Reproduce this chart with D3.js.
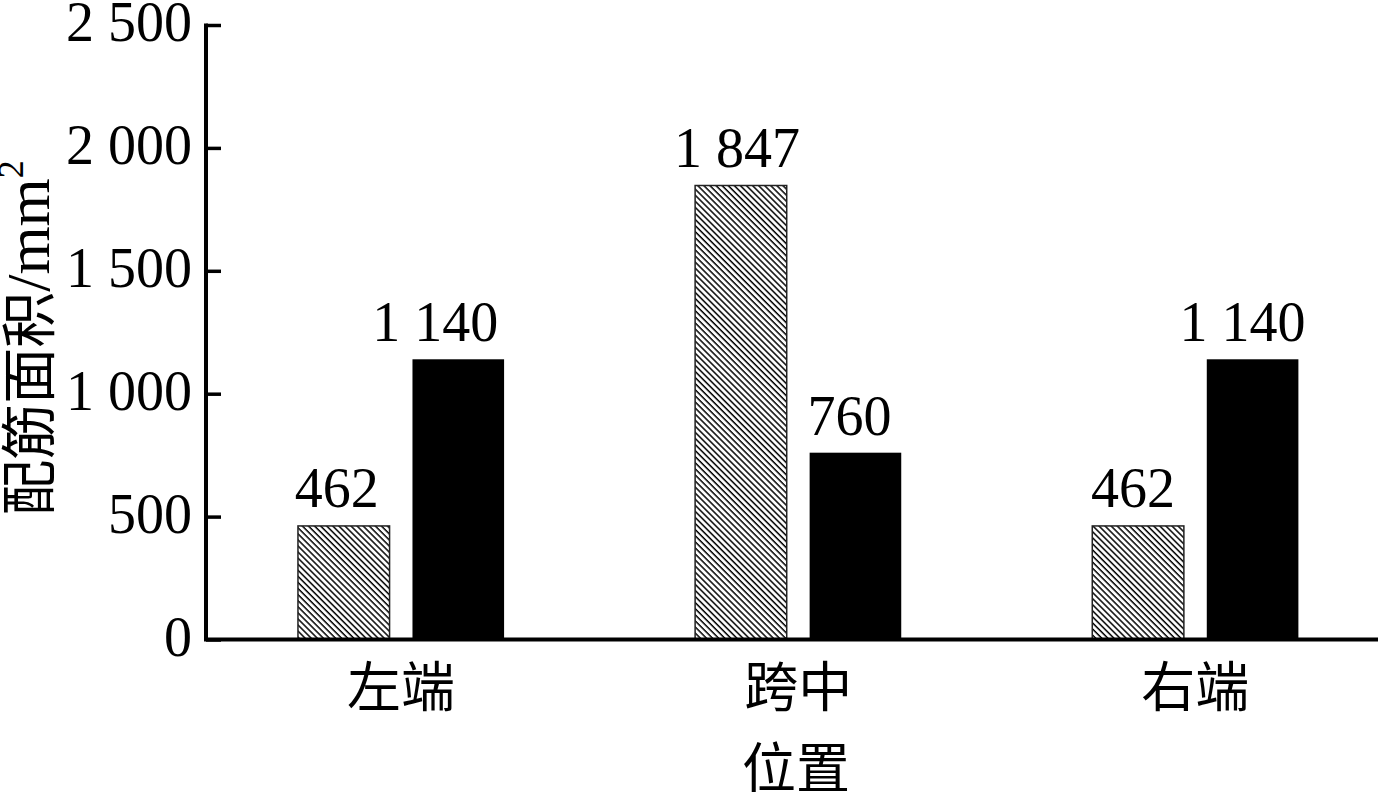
<!DOCTYPE html>
<html>
<head>
<meta charset="utf-8">
<script src="https://cdn.jsdelivr.net/npm/d3@7"></script>
<style>
  html, body { margin: 0; padding: 0; background: #fff; }
  svg { display: block; }
</style>
</head>
<body>
<svg id="chart" width="1392" height="806"></svg>
<script>
// ---- data ----
const categories = ["左端", "跨中", "右端"];
const seriesNames = ["A", "B"];
const seriesA = [462, 1847, 462];     // hatched bars
const seriesB = [1140, 760, 1140];    // black bars
const yTicks = [0, 500, 1000, 1500, 2000, 2500];
const yTickLabels = ["0", "500", "1 000", "1 500", "2 000", "2 500"];
const valueLabelsA = ["462", "1 847", "462"];
const valueLabelsB = ["1 140", "760", "1 140"];
const yTitleCJK = "配筋面积";
const yTitleUnit = "/mm";
const xTitle = "位置";

(function () {
// ---- layout ----
const svg = d3.select("#chart");
const mLeft = 206, mRight = 1378, mTop = 25, mBottom = 639.5;
const numFont = "'Liberation Serif', 'Times New Roman', serif";
const cjkFont = "'Noto Sans CJK SC', 'Noto Sans CJK JP', sans-serif";
// horizontal nudges of the value labels (layout only)
const shiftA = [-7, -4, -5];
const shiftB = [-23, -6, -10];

const x0 = d3.scaleBand().domain(categories).range([mLeft, mRight])
  .paddingInner(0.481).paddingOuter(0.216).align(0.536);
const x1 = d3.scaleBand().domain(seriesNames).range([0, x0.bandwidth()])
  .paddingInner(0.2).paddingOuter(0);
const y = d3.scaleLinear().domain([0, 2500]).range([mBottom, mTop]);

// hatch pattern
const defs = svg.append("defs");
const pat = defs.append("pattern")
  .attr("id", "hatch")
  .attr("patternUnits", "userSpaceOnUse")
  .attr("width", 4.3).attr("height", 10)
  .attr("patternTransform", "rotate(-45)");
pat.append("rect").attr("width", 4.3).attr("height", 10).attr("fill", "#fff");
pat.append("line").attr("x1", 1).attr("x2", 1).attr("y1", 0).attr("y2", 10)
  .attr("stroke", "#000").attr("stroke-width", 1.5);

const rows = categories.map((c, i) => ({ i, cat: c, A: seriesA[i], B: seriesB[i], la: valueLabelsA[i], lb: valueLabelsB[i] }));

const g = svg.append("g");

rows.forEach(r => {
  const gx = x0(r.cat);
  g.append("rect")
    .attr("x", gx + x1("A"))
    .attr("y", y(r.A))
    .attr("width", x1.bandwidth())
    .attr("height", y(0) - y(r.A))
    .attr("fill", "url(#hatch)")
    .attr("stroke", "#222")
    .attr("stroke-width", 1.5);
  g.append("rect")
    .attr("x", gx + x1("B"))
    .attr("y", y(r.B))
    .attr("width", x1.bandwidth())
    .attr("height", y(0) - y(r.B))
    .attr("fill", "#000");
  g.append("text")
    .attr("x", gx + x1("A") + x1.bandwidth() / 2 + shiftA[r.i])
    .attr("y", y(r.A) - 19)
    .attr("text-anchor", "middle")
    .attr("font-family", numFont)
    .attr("font-size", 56)
    .attr("fill", "#000")
    .text(r.la);
  g.append("text")
    .attr("x", gx + x1("B") + x1.bandwidth() / 2 + shiftB[r.i])
    .attr("y", y(r.B) - 18)
    .attr("text-anchor", "middle")
    .attr("font-family", numFont)
    .attr("font-size", 56)
    .attr("fill", "#000")
    .text(r.lb);
});

// y axis
const yAxis = d3.axisRight(y).tickValues(yTicks).tickSize(15).tickFormat(() => "");
const ya = svg.append("g").attr("transform", `translate(${mLeft},0)`).call(yAxis);
ya.select(".domain").remove();
ya.selectAll(".tick line").attr("stroke", "#000").attr("stroke-width", 3.5);
svg.append("line").attr("x1", mLeft).attr("x2", mLeft).attr("y1", mTop - 1.5).attr("y2", mBottom + 1.5)
  .attr("stroke", "#000").attr("stroke-width", 4);
svg.append("g").selectAll("text").data(yTicks).join("text")
  .attr("x", 192)
  .attr("y", (d) => y(d) + 16)
  .attr("text-anchor", "end")
  .attr("font-family", numFont)
  .attr("font-size", 56)
  .attr("fill", "#000")
  .text((d, i) => yTickLabels[i]);

// x axis
const xAxis = d3.axisBottom(x0).tickSize(0).tickPadding(0);
const xa = svg.append("g").attr("transform", `translate(0,${mBottom})`).call(xAxis);
xa.select(".domain").remove();
xa.selectAll(".tick text")
  .attr("y", 67)
  .attr("dy", null)
  .attr("font-family", cjkFont)
  .attr("font-size", 54)
  .attr("fill", "#000");
svg.append("line").attr("x1", mLeft - 2).attr("x2", mRight).attr("y1", mBottom).attr("y2", mBottom)
  .attr("stroke", "#000").attr("stroke-width", 4);

// x title
svg.append("text")
  .attr("x", 796).attr("y", 788)
  .attr("text-anchor", "middle")
  .attr("font-family", cjkFont)
  .attr("font-size", 54)
  .attr("fill", "#000")
  .text(xTitle);

// y title
const yt = svg.append("text")
  .attr("transform", "translate(49,338) rotate(-90)")
  .attr("text-anchor", "middle")
  .attr("fill", "#000");
yt.append("tspan").attr("font-family", cjkFont).attr("font-size", 56).text(yTitleCJK);
yt.append("tspan").attr("font-family", numFont).attr("font-size", 62).text(yTitleUnit);
yt.append("tspan").attr("font-family", numFont).attr("font-size", 36).attr("dy", -26).text("2");
})();
</script>
</body>
</html>
